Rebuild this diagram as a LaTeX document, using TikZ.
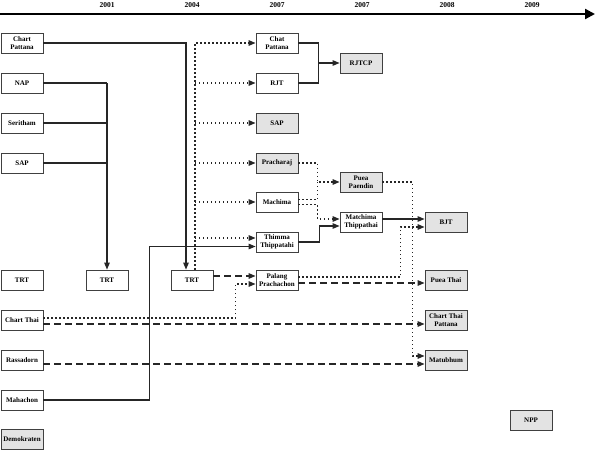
\documentclass[tikz,border=0pt]{standalone}
\usepackage{fontspec}
\setmainfont{Liberation Serif}
\usetikzlibrary{arrows.meta,positioning}
\tikzset{
  party/.style={rectangle, draw=black!75, line width=0.8pt, fill=white, minimum width=42pt, minimum height=20pt, inner sep=1pt, align=center, font=\bfseries\fontsize{7}{8.5}\selectfont},
  newparty/.style={party, fill=gray!22},
  yearlbl/.style={font=\bfseries\fontsize{7.5}{8}\selectfont},
  solidline/.style={line width=1.1pt, black!85},
  solidarrow/.style={solidline, -{Triangle[length=7pt,width=5.5pt]}},
  dotline/.style={line width=1.2pt, dash pattern=on 1.2pt off 2.8pt, black!85},
  dotarrow/.style={dotline, -{Triangle[length=7pt,width=5.5pt]}},
  dasharrow/.style={line width=1.2pt, dash pattern=on 7pt off 4pt, black!85, -{Triangle[length=7pt,width=5.5pt]}},
  timeline/.style={line width=2.2pt, -{Triangle[length=10pt,width=10pt]}}
}
\begin{document}
\begin{tikzpicture}[x=1pt,y=-1pt]
\useasboundingbox (0,0) rectangle (595,450);
% time axis
\coordinate (tl0) at (0,14);
\coordinate (tl1) at (595,14);
\draw[timeline] (tl0) -- (tl1);
\foreach \x/\yr in {107/2001,192/2004,277/2007,362/2007,447/2008,532/2009}
  \node[yearlbl] (yr\x) at (\x,5) {\yr};

% parties before 2001
\foreach \nm/\txt/\y in {cpa/{Chart\\Pattana}/43, nap/NAP/83, seri/Seritham/123, sapa/SAP/163, trta/TRT/280, cthai/Chart Thai/320, rassa/Rassadorn/360, maha/Mahachon/400}
  \node[party] (\nm) at (22,\y) {\txt};
\node[newparty] (demo) at (22,439) {Demokraten};

% 2001 / 2004
\node[party] (trtb) at (107,280) {TRT};
\node[party] (trtc) at (192,280) {TRT};

% 2007
\node[party] (chat) at (277,43) {Chat\\Pattana};
\node[party] (rjt) at (277,83) {RJT};
\node[newparty] (sapb) at (277,123) {SAP};
\node[newparty] (prach) at (277,163) {Pracharaj};
\node[party] (machima) at (277,202) {Machima};
\node[party] (thimma) at (277,242) {Thimma\\Thippatahi};
\node[party] (palang) at (277,280) {Palang\\Prachachon};

\node[newparty] (rjtcp) at (361,63) {RJTCP};
\node[newparty] (puea) at (361,182) {Puea\\Paendin};
\node[party] (matchima) at (361,222) {Matchima\\Thippathai};

% 2008 / 2009
\node[newparty] (bjt) at (446,222) {BJT};
\node[newparty] (pthai) at (446,280) {Puea Thai};
\node[newparty] (ctp) at (446,320) {Chart Thai\\Pattana};
\node[newparty] (matub) at (446,360) {Matubhum};
\node[newparty] (npp) at (531,420) {NPP};

% mergers into TRT
\draw[solidarrow] (cpa.east) -| ([xshift=-6pt]trtc.north);
\coordinate (jn) at (trtb.north |- nap.east);
\draw[solidline] (nap.east) -- (jn);
\foreach \nd in {seri,sapa} \draw[solidline] (\nd.east) -- (\nd.east -| jn);
\draw[solidarrow] (jn) -- (trtb.north);

% TRT dissolved
\coordinate (dv) at ([xshift=3pt]trtc.north);
\draw[dotarrow] (dv) |- (chat.west);
\foreach \nd in {rjt,sapb,prach,machima} \draw[dotarrow] (dv |- \nd.west) -- (\nd.west);
\coordinate (thu) at ([yshift=4pt]thimma.west);
\draw[dotarrow] (dv |- thu) -- (thu);
\draw[dasharrow] ([yshift=4pt]trtc.east) -- ([yshift=4pt]palang.west);

\coordinate (jr) at ([xshift=-21pt]rjtcp.west);
\draw[solidline] (chat.east) -| (jr);
\draw[solidline] (rjt.east) -| (jr);
\draw[solidarrow] (jr) -- (rjtcp.west);

\draw[solidarrow] (maha.east) -- ++(106,0) |- ([yshift=-4.5pt]thimma.west);

% Chart Thai, Rassadorn
\draw[dotarrow] ([yshift=2pt]cthai.east) -- ++(192,0) |- ([yshift=-4pt]palang.west);
\draw[dasharrow] ([yshift=-4pt]cthai.east) -- ([yshift=-4pt]ctp.west);
\draw[dasharrow] ([yshift=-4pt]rassa.east) -- ([yshift=-4pt]matub.west);

% Pracharaj, Machima, Thimma
\coordinate (pv) at ([xshift=-22pt]puea.west);
\draw[dotarrow] (prach.east) -| (pv) -- (puea.west);
\draw[dotline] ([yshift=2.5pt]machima.east) -| (pv);
\coordinate (mu) at ([yshift=3pt]matchima.west);
\draw[dotarrow] ([yshift=-2.5pt]machima.east) -| ([xshift=-22pt]mu) -- (mu);
\coordinate (ml) at ([yshift=-4pt]matchima.west);
\draw[solidarrow] (thimma.east) -| ([xshift=-20pt]ml) -- (ml);
\draw[solidarrow] ([yshift=3pt]matchima.east) -- ([yshift=3pt]bjt.west);

% Palang, Puea Paendin
\draw[dotarrow] ([yshift=3pt]palang.east) -- ++(102,0) |- ([yshift=-5pt]bjt.west);
\draw[dasharrow] ([yshift=-3pt]palang.east) -- ([yshift=-3pt]pthai.west);
\draw[dotarrow] (puea.east) -- ++(30,0) |- ([yshift=4pt]matub.west);
\end{tikzpicture}
\end{document}
